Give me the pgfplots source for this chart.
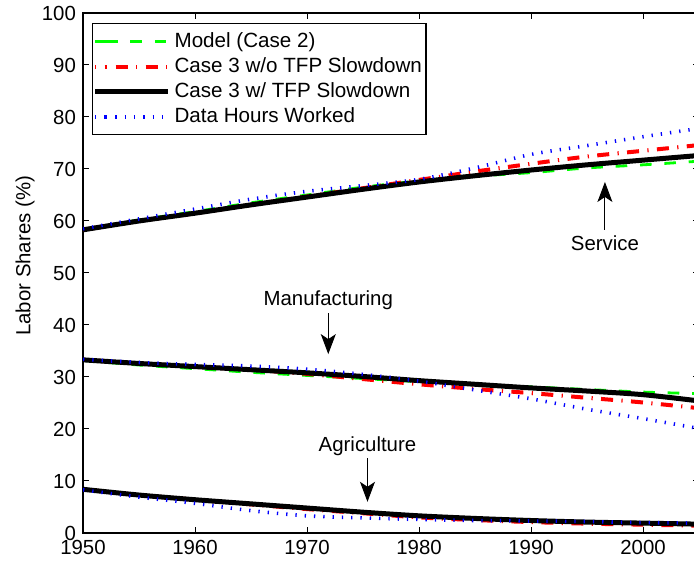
\documentclass[border=0pt]{standalone}
\usepackage{fontspec}
\setmainfont{Liberation Sans}
\usepackage{pgfplots}
\pgfplotsset{compat=1.18}
\usetikzlibrary{arrows.meta}
\definecolor{mgreen}{RGB}{0,255,0}
\definecolor{mred}{RGB}{255,0,0}
\definecolor{mblue}{RGB}{0,0,255}
\pgfplotsset{
  greenl/.style={mgreen, line width=1.4pt, dash pattern=on 5.8pt off 6.4pt},
  redl/.style={mred, line width=2pt, dash pattern=on 0.6pt off 4.2pt on 6pt off 4.2pt},
  blackl/.style={black, line width=2.5pt},
  bluel/.style={mblue, line width=1.8pt, dash pattern=on 0.65pt off 4pt},
}
\begin{document}
\begin{tikzpicture}
\useasboundingbox (0,0) rectangle (347pt,282.5pt);
\clip (0,0) rectangle (347pt,282.5pt);
\begin{axis}[
  scale only axis, width=308pt, height=260pt,
  at={(41.5pt,16pt)}, anchor=south west,
  xmin=1950, xmax=2005, ymin=0, ymax=100,
  xtick={1950,1960,...,2000}, ytick={0,10,...,100},
  /pgf/number format/assume math mode=true,
  x tick label style={/pgf/number format/1000 sep={}},
  tick label style={font=\fontsize{10.2}{12}\selectfont},
  tick align=inside, major tick length=3pt,
  axis line style={line width=0.6pt},
  every tick/.style={black, line width=0.5pt},
  ylabel={Labor Shares (\%)},
  every axis y label/.style={at={(axis description cs:-0.094,0.533)}, rotate=90, anchor=center, font=\fontsize{10.2}{12}\selectfont},
  legend cell align=left,
  legend style={at={(axis description cs:0.0146,0.981)}, anchor=north west, draw=black, line width=0.6pt, font=\fontsize{10.3}{12}\selectfont, inner xsep=0pt, inner ysep=2.5pt, row sep=-0.4pt},
  legend image code/.code={\path (0pt,0pt) -- (5.5pt,0pt); \draw[#1] (5.5pt,0pt) -- (36.5pt,0pt);},
]
% Service
\addplot[greenl, smooth] coordinates {(1950,58.3)(1955,60.2)(1960,61.8)(1965,63.5)(1970,65.0)(1975,66.5)(1980,67.7)(1985,68.6)(1990,69.3)(1995,70.2)(2000,70.8)(2005,71.5)};
\addlegendentry{Model (Case 2)}
\addplot[redl, smooth] coordinates {(1950,58.3)(1955,60.0)(1960,61.5)(1965,63.1)(1970,64.7)(1975,66.3)(1980,67.9)(1985,69.5)(1990,71.0)(1995,72.4)(2000,73.5)(2005,74.6)};
\addlegendentry{Case 3 w/o TFP Slowdown}
\addplot[blackl, smooth] coordinates {(1950,58.3)(1955,60.0)(1960,61.5)(1965,63.1)(1970,64.6)(1975,66.1)(1980,67.5)(1985,68.7)(1990,69.8)(1995,70.8)(2000,71.7)(2005,72.6)};
\addlegendentry{Case 3 w/ TFP Slowdown}
\addplot[bluel, smooth] coordinates {(1950,58.5)(1955,60.4)(1960,62.3)(1965,64.2)(1970,65.7)(1975,66.8)(1980,68.0)(1985,70.2)(1990,72.8)(1995,74.5)(2000,76.2)(2005,77.8)};
\addlegendentry{Data Hours Worked}
% Manufacturing
\addplot[greenl, smooth, forget plot] coordinates {(1950,33.2)(1955,32.3)(1960,31.6)(1965,30.9)(1970,30.3)(1975,29.7)(1980,29.1)(1985,28.6)(1990,28.1)(1995,27.6)(2000,27.1)(2005,26.8)};
\addplot[redl, smooth, forget plot] coordinates {(1950,33.3)(1955,32.6)(1960,32.0)(1965,31.4)(1970,30.6)(1975,29.6)(1980,28.6)(1985,27.7)(1990,26.9)(1995,26.0)(2000,25.1)(2005,24.0)};
\addplot[blackl, smooth, forget plot] coordinates {(1950,33.3)(1955,32.6)(1960,32.0)(1965,31.4)(1970,30.8)(1975,30.1)(1980,29.3)(1985,28.6)(1990,27.9)(1995,27.3)(2000,26.6)(2005,25.4)};
\addplot[bluel, smooth, forget plot] coordinates {(1950,33.4)(1955,32.8)(1960,32.4)(1965,32.1)(1970,31.5)(1975,30.5)(1980,29.2)(1985,27.5)(1990,25.8)(1995,23.8)(2000,22.0)(2005,20.1)};
% Agriculture
\addplot[greenl, smooth, forget plot] coordinates {(1950,8.4)(1955,7.3)(1960,6.4)(1965,5.6)(1970,4.8)(1975,4.0)(1980,3.2)(1985,2.7)(1990,2.3)(1995,2.0)(2000,1.8)(2005,1.6)};
\addplot[redl, smooth, forget plot] coordinates {(1950,8.4)(1955,7.3)(1960,6.4)(1965,5.5)(1970,4.6)(1975,3.8)(1980,3.0)(1985,2.5)(1990,2.1)(1995,1.8)(2000,1.6)(2005,1.4)};
\addplot[blackl, smooth, forget plot] coordinates {(1950,8.4)(1955,7.3)(1960,6.4)(1965,5.6)(1970,4.8)(1975,4.0)(1980,3.3)(1985,2.8)(1990,2.4)(1995,2.1)(2000,1.9)(2005,1.7)};
\addplot[bluel, smooth, forget plot] coordinates {(1950,8.3)(1955,6.9)(1960,5.7)(1965,4.3)(1970,3.3)(1975,2.9)(1980,2.6)(1985,2.4)(1990,2.3)(1995,2.2)(2000,2.0)(2005,1.9)};
% annotations
\draw[line width=0.5pt, -{Stealth[length=10pt,width=7.5pt,inset=2.5pt]}] (axis cs:1996.6,58.3) -- (axis cs:1996.6,67.5);
\node[font=\fontsize{10.2}{12}\selectfont] at (axis cs:1996.6,55.8) {Service};
\draw[line width=0.5pt, -{Stealth[length=10pt,width=7.5pt,inset=2.5pt]}] (axis cs:1971.9,42.3) -- (axis cs:1971.9,34.4);
\node[font=\fontsize{10.2}{12}\selectfont] at (axis cs:1971.9,44.8) {Manufacturing};
\draw[line width=0.5pt, -{Stealth[length=10pt,width=7.5pt,inset=2.5pt]}] (axis cs:1975.4,14.4) -- (axis cs:1975.4,6.0);
\node[font=\fontsize{10.2}{12}\selectfont] at (axis cs:1975.4,16.7) {Agriculture};
\end{axis}
\end{tikzpicture}
\end{document}
